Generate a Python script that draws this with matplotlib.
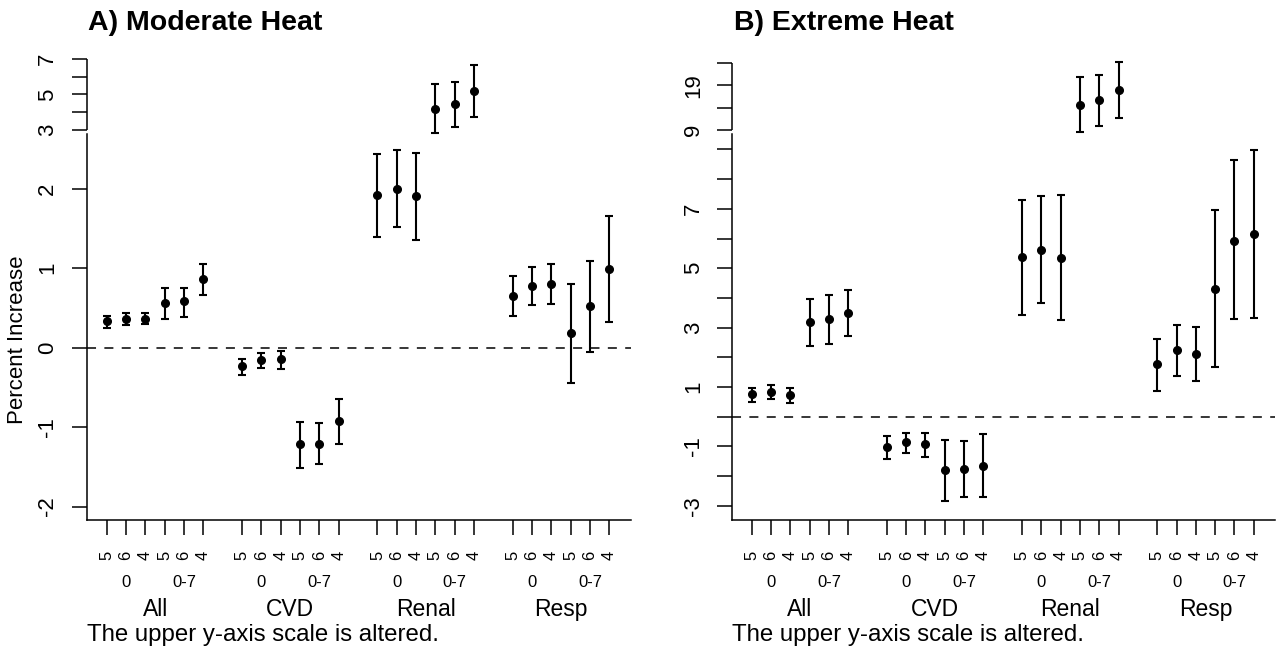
import numpy as np
import matplotlib
matplotlib.use("Agg")
import matplotlib.pyplot as plt
from matplotlib import transforms

plt.rcParams['font.family'] = ['Liberation Sans', 'DejaVu Sans']
plt.rcParams['lines.scale_dashes'] = False

# data ---------------------------------------------------------------
groups = ["All", "CVD", "Renal", "Resp"]
lag_labels = ["0", "0-7"]
df_labels = ["5", "6", "4"]

# moderate heat: estimate, lower, upper (percent increase)
mod_est = [0.33, 0.36, 0.36, 0.56, 0.58, 0.86,
           -0.23, -0.16, -0.15, -1.22, -1.21, -0.93,
           1.92, 2.00, 1.91, 4.18, 4.45, 5.21,
           0.65, 0.77, 0.80, 0.18, 0.52, 0.99]
mod_lo = [0.25, 0.28, 0.29, 0.36, 0.38, 0.66,
          -0.34, -0.26, -0.27, -1.52, -1.47, -1.21,
          1.39, 1.52, 1.35, 2.81, 3.15, 3.75,
          0.40, 0.54, 0.55, -0.45, -0.06, 0.32]
mod_hi = [0.40, 0.43, 0.44, 0.75, 0.75, 1.05,
          -0.14, -0.07, -0.05, -0.94, -0.95, -0.65,
          2.43, 2.49, 2.45, 5.59, 5.69, 6.68,
          0.90, 1.01, 1.05, 0.80, 1.09, 1.66]

# extreme heat
ext_est = [0.75, 0.84, 0.73, 3.20, 3.29, 3.50,
           -1.02, -0.86, -0.92, -1.79, -1.76, -1.65,
           5.38, 5.62, 5.33, 14.6, 15.7, 18.0,
           1.76, 2.24, 2.11, 4.29, 5.92, 6.15]
ext_lo = [0.49, 0.59, 0.47, 2.39, 2.46, 2.72,
          -1.42, -1.21, -1.35, -2.85, -2.70, -2.70,
          3.43, 3.83, 3.26, 8.6, 10.0, 11.7,
          0.88, 1.36, 1.20, 1.68, 3.28, 3.33]
ext_hi = [0.98, 1.08, 0.98, 3.97, 4.11, 4.28,
          -0.66, -0.55, -0.55, -0.77, -0.81, -0.59,
          7.30, 7.42, 7.45, 20.8, 21.3, 24.3,
          2.62, 3.08, 3.01, 6.95, 8.64, 8.98]

# points drawn on the altered (upper) scale: Renal, lag 0-7
upper_pts = [15, 16, 17]

W, H = 1281, 651
fig = plt.figure(figsize=(W / 100, H / 100), dpi=100)


def fy(p):
    # pixel row -> figure fraction
    return 1 - p / H


def panel(x0, x1, xlim, zero_px, px_unit, brk_px, up_start, up_px, up_unit,
          est, lo, hi, low_ticks, low_labels, up_ticks, up_labels, title):
    top_px, bot_px = 45, 520
    ax = fig.add_axes([x0 / W, fy(bot_px), (x1 - x0) / W, (bot_px - top_px) / H])
    ax.set_xlim(*xlim)
    ylo = (zero_px - bot_px) / px_unit
    yhi = (zero_px - top_px) / px_unit
    ax.set_ylim(ylo, yhi)

    t_up = (zero_px - up_px) / px_unit   # axis position of up_start
    r = up_unit / px_unit
    brk = (zero_px - brk_px) / px_unit

    def tr(v, i):
        v = np.asarray(v, dtype=float)
        if i in upper_pts:
            return t_up + (v - up_start) * r
        return v

    xpos = np.array([g * 7 + k + 1 for g in range(4) for k in range(6)])
    e = np.array([tr(est[i], i) for i in range(24)])
    l = np.array([tr(lo[i], i) for i in range(24)])
    h = np.array([tr(hi[i], i) for i in range(24)])
    ax.axhline(0, color='black', lw=1.1, ls=(0, (6.5, 6)), zorder=1)
    ax.errorbar(xpos, e, yerr=[e - l, h - e], fmt='o', color='black',
                ms=5.5, capsize=2.9, elinewidth=1.5, capthick=1.5, zorder=3)

    # axes lines
    for s in ['top', 'right']:
        ax.spines[s].set_visible(False)
    ax.spines['bottom'].set_linewidth(1.1)
    ax.spines['left'].set_linewidth(1.1)
    ax.spines['left'].set_bounds(ylo, brk)
    up_pos = [t_up + (v - up_start) * r for v in up_ticks]
    ax.plot([xlim[0], xlim[0]], [up_pos[0], up_pos[-1]], color='black',
            lw=1.1, clip_on=False, solid_capstyle='butt')

    ax.set_yticks(list(low_ticks) + up_pos, list(low_labels) + list(up_labels))
    ax.tick_params(axis='y', length=10.8, width=1.1, pad=9.5,
                   labelsize=16, labelrotation=90)
    for lab in ax.get_yticklabels():
        lab.set_va('center')

    ax.set_xticks(xpos, [''] * 24)
    ax.tick_params(axis='x', length=10.8, width=1.1)

    bt = transforms.blended_transform_factory(ax.transData, fig.transFigure)
    for g in range(4):
        for k in range(6):
            ax.text(xpos[g * 6 + k], fy(555), df_labels[k % 3], transform=bt,
                    rotation=90, ha='center', va='center', fontsize=12)
        ax.text(xpos[g * 6 + 1], fy(587), lag_labels[0], transform=bt,
                ha='center', va='baseline', fontsize=12)
        ax.text(xpos[g * 6 + 4], fy(587), lag_labels[1], transform=bt,
                ha='center', va='baseline', fontsize=12)
        ax.text(xpos[g * 6] + 2.5, fy(616), groups[g], transform=bt,
                ha='center', va='baseline', fontsize=16.5)

    fig.text(x0 / W, fy(641), "The upper y-axis scale is altered.",
             ha='left', va='baseline', fontsize=17.3)
    fig.text((x0 + 1.5) / W, fy(30), title, ha='left', va='baseline',
             fontsize=20.5, fontweight='bold')
    return ax


panel(86.5, 630.6, (-0.05, 28.1), 347.5, 79.5, 134, 3, 130, 17.75,
      mod_est, mod_lo, mod_hi,
      [-2, -1, 0, 1, 2], ["-2", "-1", "0", "1", "2"],
      [3, 4, 5, 6, 7], ["3", "", "5", "", "7"],
      "A) Moderate Heat")

panel(732.0, 1275, (-0.02, 28.1), 416.7, 29.7, 134, 9, 130, 4.453,
      ext_est, ext_lo, ext_hi,
      list(range(-3, 10)),
      ["-3", "", "-1", "", "1", "", "3", "", "5", "", "7", "", ""],
      [9, 14, 19, 24], ["9", "", "19", ""],
      "B) Extreme Heat")

fig.text(18 / W, fy(340), "Percent Increase", rotation=90, ha='center',
         va='center', fontsize=16)

fig.savefig("out.png", dpi=100)
